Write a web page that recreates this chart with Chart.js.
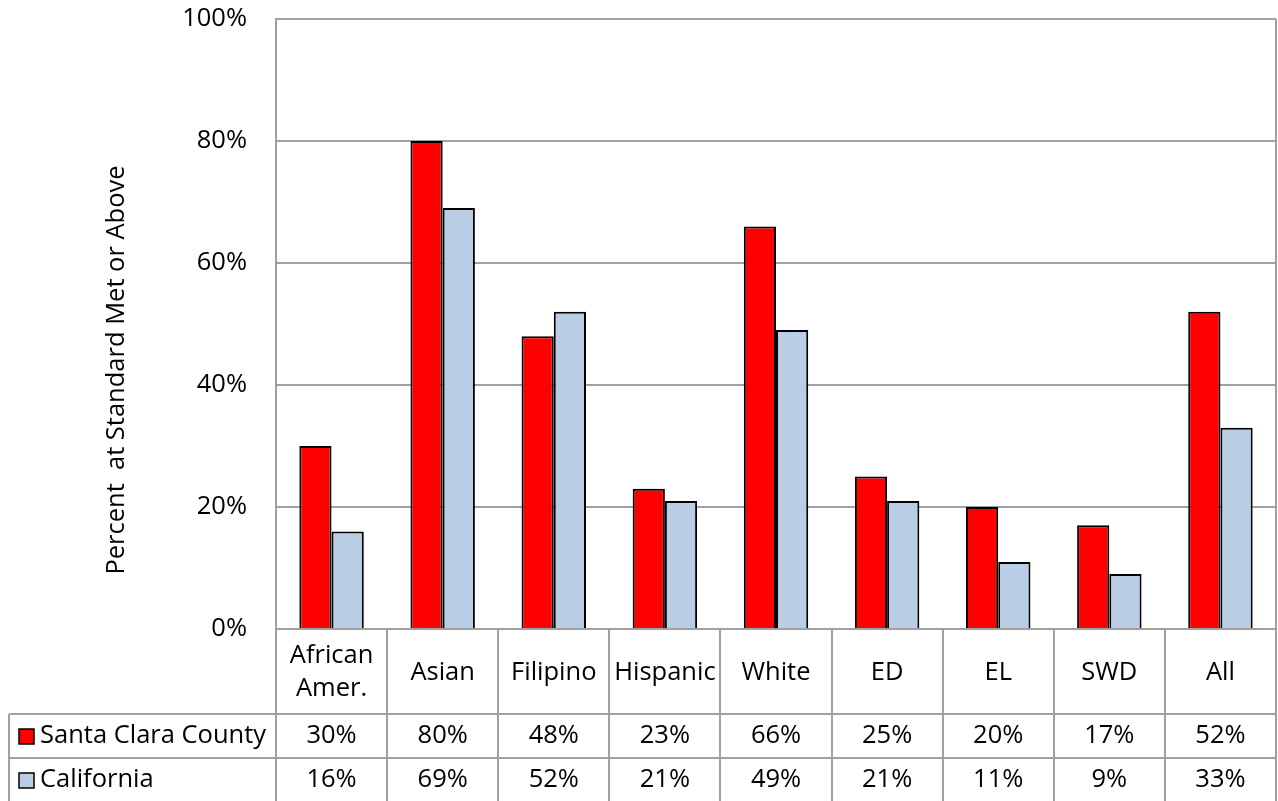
<!DOCTYPE html>
<html>
<head>
<meta charset="utf-8">
<script src="https://cdn.jsdelivr.net/npm/chart.js@4.4.1/dist/chart.umd.min.js"></script>
<style>
  html, body { margin: 0; padding: 0; background: #fff; }
  canvas { display: block; }
</style>
</head>
<body>
<canvas id="myChart" width="1278" height="801"></canvas>
<script>
const categories = [['African', 'Amer.'], 'Asian', 'Filipino', 'Hispanic', 'White', 'ED', 'EL', 'SWD', 'All'];
const seriesNames = ['Santa Clara County', 'California'];
const santaClara = [30, 80, 48, 23, 66, 25, 20, 17, 52];
const california = [16, 69, 52, 21, 49, 21, 11, 9, 33];
const yTicks = [0, 20, 40, 60, 80, 100];
const yTitle = 'Percent  at Standard Met or Above';

const FONT = '"Open Sans", "Liberation Sans", sans-serif';
const FSIZE = 25.5;
const GRID = '#a0a0a0';
const colors = ['#ff0000', '#b9cde5'];

// data table under the plot, drawn from the same arrays
const tablePlugin = {
    id: 'dataTable',
    afterDraw(chart) {
        const ctx = chart.ctx;
        const area = chart.chartArea;
        const xs = chart.scales.x;
        const n = categories.length;
        const colW = (area.right - area.left) / n;
        const headBottom = 714;
        const rowH = 44;
        const tableLeft = 9;
        const bottom = chart.height;

        ctx.save();
        ctx.strokeStyle = GRID;
        ctx.lineWidth = 2;
        ctx.beginPath();
        // right border of the plot
        ctx.moveTo(area.right, area.top);
        ctx.lineTo(area.right, bottom);
        // column lines
        for (let i = 0; i < n; i++) {
            const x = Math.round(area.left + i * colW);
            ctx.moveTo(x, area.bottom);
            ctx.lineTo(x, bottom);
        }
        // row lines
        ctx.moveTo(tableLeft, headBottom);
        ctx.lineTo(area.right, headBottom);
        ctx.moveTo(tableLeft, headBottom + rowH);
        ctx.lineTo(area.right, headBottom + rowH);
        ctx.moveTo(tableLeft, headBottom);
        ctx.lineTo(tableLeft, bottom);
        ctx.stroke();

        ctx.fillStyle = '#000';
        ctx.font = FSIZE + 'px ' + FONT;
        ctx.textAlign = 'center';
        ctx.textBaseline = 'middle';

        // header labels
        const headMid = (area.bottom + headBottom) / 2;
        categories.forEach((c, i) => {
            const x = xs.getPixelForValue(i);
            const lines = Array.isArray(c) ? c : [c];
            const lh = 33;
            lines.forEach((t, j) => {
                ctx.fillText(t, x, headMid + 1 + (j - (lines.length - 1) / 2) * lh);
            });
        });

        // values
        [santaClara, california].forEach((vals, r) => {
            const y = headBottom + rowH * r + rowH / 2;
            vals.forEach((v, i) => {
                ctx.fillText(v + '%', xs.getPixelForValue(i), y);
            });
            // legend key
            ctx.fillStyle = colors[r];
            ctx.fillRect(19, y - 7, 15, 15);
            ctx.strokeStyle = '#000';
            ctx.lineWidth = 1.5;
            ctx.strokeRect(19, y - 7, 15, 15);
            ctx.fillStyle = '#000';
            ctx.textAlign = 'left';
            ctx.fillText(seriesNames[r], 40, y);
            ctx.textAlign = 'center';
        });

        // y axis title
        ctx.save();
        ctx.translate(117, 370);
        ctx.rotate(-Math.PI / 2);
        ctx.fillText(yTitle, 0, 0);
        ctx.restore();

        ctx.restore();
    }
};

const ctx = document.getElementById('myChart');
const myChart = new Chart(ctx, {
    type: 'bar',
    data: {
        labels: categories,
        datasets: [{
            label: seriesNames[0],
            data: santaClara,
            backgroundColor: colors[0],
            borderColor: '#000',
            borderWidth: 2
        }, {
            label: seriesNames[1],
            data: california,
            backgroundColor: colors[1],
            borderColor: '#000',
            borderWidth: 2
        }]
    },
    options: {
        responsive: false,
        animation: false,
        devicePixelRatio: 1,
        layout: {
            padding: { top: 19, right: 2, bottom: 172, left: 0 }
        },
        datasets: {
            bar: { categoryPercentage: 0.58, barPercentage: 1.0 }
        },
        plugins: {
            legend: { display: false },
            tooltip: { enabled: false }
        },
        scales: {
            x: {
                display: false
            },
            y: {
                min: 0,
                max: 100,
                afterFit: function(scale) { scale.width = 276; },
                afterBuildTicks: function(scale) {
                    scale.ticks = yTicks.map(v => ({ value: v }));
                },
                ticks: {
                    padding: 3,
                    color: '#000',
                    font: { family: FONT, size: FSIZE },
                    callback: function(value) { return value + '%'; }
                },
                grid: {
                    color: GRID,
                    lineWidth: 2,
                    drawTicks: true,
                    tickLength: 26,
                    tickColor: 'rgba(0,0,0,0)'
                },
                border: { color: GRID, width: 2 }
            }
        }
    },
    plugins: [tablePlugin]
});
</script>
</body>
</html>
